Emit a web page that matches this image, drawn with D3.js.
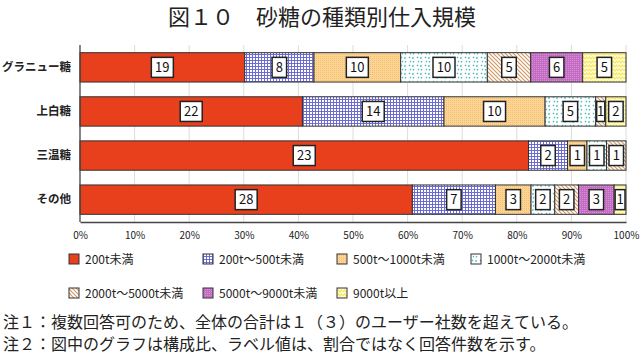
<!DOCTYPE html>
<html>
<head>
<meta charset="utf-8">
<script src="https://cdn.jsdelivr.net/npm/d3@7"></script>
<style>
  body { margin: 0; background: #fff; }
  text { font-family: "Noto Sans CJK JP", "Noto Sans", sans-serif; }
</style>
</head>
<body>
<div id="chart"></div>
<script>
// Data
const categories = ["グラニュー糖", "上白糖", "三温糖", "その他"];
const seriesNames = ["200t未満", "200t～500t未満", "500t～1000t未満", "1000t～2000t未満",
  "2000t～5000t未満", "5000t～9000t未満", "9000t以上"];
const under200 = [19, 22, 23, 28];
const from200to500 = [8, 14, 2, 7];
const from500to1000 = [10, 10, 1, 3];
const from1000to2000 = [10, 5, 1, 2];
const from2000to5000 = [5, 1, 1, 2];
const from5000to9000 = [6, 0, 0, 3];
const over9000 = [5, 2, 0, 1];
const tickValues = [0, 0.1, 0.2, 0.3, 0.4, 0.5, 0.6, 0.7, 0.8, 0.9, 1];

const seriesValues = [under200, from200to500, from500to1000, from1000to2000,
  from2000to5000, from5000to9000, over9000];

const width = 640;
const height = 354;
const marginLeft = 80;
const marginRight = 14;
const plotTop = 45;
const plotBottom = 222;

// table for d3.stack
const table = categories.map((c, i) => {
  const row = { category: c };
  seriesNames.forEach((s, j) => row[s] = seriesValues[j][i]);
  return row;
});
const stacked = d3.stack().keys(seriesNames).offset(d3.stackOffsetExpand)(table);

const x = d3.scaleLinear().domain([0, 1]).range([marginLeft, width - marginRight]);
const y = d3.scaleBand().domain(categories).range([plotTop, plotBottom])
  .paddingInner(0.334).paddingOuter(0.174);

const svg = d3.create("svg")
  .attr("width", width)
  .attr("height", height)
  .attr("viewBox", [0, 0, width, height]);
d3.select("#chart").append(() => svg.node());

// Fill patterns
const defs = svg.append("defs");
function pat(id, w, h) {
  return defs.append("pattern").attr("id", id).attr("patternUnits", "userSpaceOnUse")
    .attr("width", w).attr("height", h);
}
// blue grid
let p = pat("p1", 3, 3);
p.append("rect").attr("width", 3).attr("height", 3).attr("fill", "#fff");
p.append("rect").attr("width", 3).attr("height", 1).attr("fill", "#6c6cd2");
p.append("rect").attr("width", 1).attr("height", 3).attr("fill", "#6c6cd2");
// light orange
p = pat("p2", 2, 2);
p.append("rect").attr("width", 2).attr("height", 2).attr("fill", "#fcd494");
p.append("rect").attr("width", 1).attr("height", 1).attr("fill", "#f4bf72");
// teal marks
p = pat("p3", 8, 8);
p.append("rect").attr("width", 8).attr("height", 8).attr("fill", "#fff");
p.append("path").attr("d", "M1,1 l1,1 M5,1 l0,2 M2,5 l1,1 M6,5 l-1,1.5")
  .attr("stroke", "#3cbcbc").attr("stroke-width", 1.2);
// brown hatch
p = pat("p4", 4, 4);
p.append("rect").attr("width", 4).attr("height", 4).attr("fill", "#fff");
p.append("path").attr("d", "M-1,-1 L5,5 M-1,3 L1,5 M3,-1 L5,1")
  .attr("stroke", "#d09a66").attr("stroke-width", 1.2);
// purple
p = pat("p5", 2, 2);
p.append("rect").attr("width", 2).attr("height", 2).attr("fill", "#c46cc4");
p.append("rect").attr("width", 1).attr("height", 1).attr("fill", "#d690d6");
// yellow waves
p = pat("p6", 6, 4);
p.append("rect").attr("width", 6).attr("height", 4).attr("fill", "#fffbe0");
p.append("path").attr("d", "M0,3 L1.5,1 L3,3 L4.5,1 L6,3")
  .attr("fill", "none").attr("stroke", "#f5e95a").attr("stroke-width", 1.2);

const fills = ["#e8401c", "url(#p1)", "url(#p2)", "url(#p3)", "url(#p4)", "url(#p5)", "url(#p6)"];

// Title
svg.append("text")
  .attr("x", 322).attr("y", 25)
  .attr("text-anchor", "middle")
  .attr("font-size", 22)
  .attr("fill", "#222")
  .text("図１０　砂糖の種類別仕入規模");

// Gridlines
svg.append("g")
  .selectAll("line")
  .data(tickValues.slice(1))
  .join("line")
  .attr("x1", d => x(d)).attr("x2", d => x(d))
  .attr("y1", plotTop).attr("y2", plotBottom)
  .attr("stroke", "#dcdcdc");

// Bars
const groups = svg.append("g")
  .selectAll("g")
  .data(stacked)
  .join("g")
  .attr("fill", (d, i) => fills[i]);

groups.selectAll("rect")
  .data(d => d.filter(s => s[1] - s[0] > 0))
  .join("rect")
  .attr("x", d => x(d[0]))
  .attr("y", d => y(d.data.category))
  .attr("width", d => x(d[1]) - x(d[0]))
  .attr("height", y.bandwidth())
  .attr("stroke", "#333")
  .attr("stroke-width", 1);

// Value label boxes
const labels = svg.append("g");
stacked.forEach((layer) => {
  layer.forEach(seg => {
    const v = seg.data[layer.key];
    if (!v) return;
    const segW = x(seg[1]) - x(seg[0]);
    const cx = (x(seg[0]) + x(seg[1])) / 2;
    const cy = y(seg.data.category) + y.bandwidth() / 2;
    const txtW = String(v).length * 7.5;
    const bw = Math.min(txtW + 7, segW - 2);
    labels.append("rect")
      .attr("x", cx - bw / 2).attr("y", cy - 10)
      .attr("width", bw).attr("height", 20)
      .attr("fill", "#fff").attr("stroke", "#222").attr("stroke-width", 1.5);
    labels.append("text")
      .attr("x", cx).attr("y", cy + 4.5)
      .attr("text-anchor", "middle")
      .attr("font-size", 13)
      .attr("fill", "#111")
      .text(v);
  });
});

// Axes
svg.append("g")
  .attr("transform", `translate(0,${plotBottom})`)
  .call(d3.axisBottom(x).tickValues(tickValues).tickFormat(d3.format(".0%")).tickSize(0).tickPadding(10))
  .call(g => g.select(".domain").attr("stroke", "#444").attr("stroke-width", 1.3))
  .call(g => g.selectAll("text").attr("font-size", 10).attr("fill", "#222")
    .attr("font-family", "'Noto Sans CJK JP', sans-serif"));

svg.append("g")
  .attr("transform", `translate(${marginLeft},0)`)
  .call(d3.axisLeft(y).tickSize(0).tickPadding(9))
  .call(g => g.select(".domain").attr("stroke", "#444").attr("stroke-width", 1.3)
    .attr("d", `M0,${plotTop}V${plotBottom}`))
  .call(g => g.selectAll("text").attr("font-size", 11.5).attr("font-weight", 600).attr("fill", "#222")
    .attr("font-family", "'Noto Sans CJK JP', sans-serif"));

// Legend
const legendX = [69, 203, 337, 471];
const legend = svg.append("g")
  .selectAll("g")
  .data(seriesNames)
  .join("g")
  .attr("transform", (d, i) => `translate(${legendX[i % 4]},${i < 4 ? 259 : 293})`);
legend.append("rect")
  .attr("x", 0).attr("y", -5)
  .attr("width", 10).attr("height", 10)
  .attr("fill", (d, i) => fills[i])
  .attr("stroke", "#333");
legend.append("text")
  .attr("x", 16).attr("y", 4.5)
  .attr("font-size", 12)
  .attr("fill", "#222")
  .text(d => d);

// Notes
const notes = ["注１：複数回答可のため、全体の合計は１（３）のユーザー社数を超えている。",
  "注２：図中のグラフは構成比、ラベル値は、割合ではなく回答件数を示す。"];
svg.append("g")
  .selectAll("text")
  .data(notes)
  .join("text")
  .attr("x", 3)
  .attr("y", (d, i) => 328 + i * 22)
  .attr("font-size", 16)
  .attr("fill", "#222")
  .text(d => d);
</script>
</body>
</html>
